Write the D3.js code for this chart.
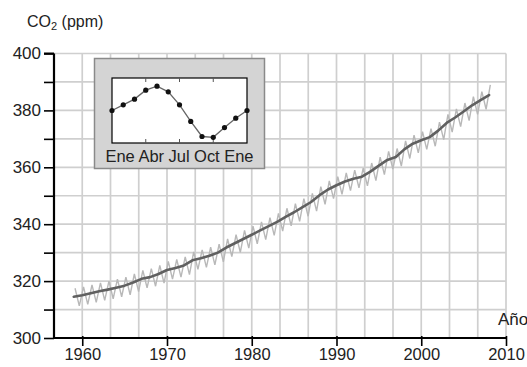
<!DOCTYPE html>
<html><head><meta charset="utf-8">
<script src="https://cdn.jsdelivr.net/npm/d3@7"></script>
<style>
body{margin:0;background:#fff;}
svg{display:block;font-family:"Liberation Sans",Arial,sans-serif;}
</style></head>
<body><svg id="c" width="527" height="367"></svg>
<script>
// ---- data ----
const years = d3.range(1959, 2009);
const annualMean = [314.5,315.0,315.7,316.4,317.0,317.7,318.4,319.5,320.8,321.4,
  322.5,323.9,324.6,325.5,327.3,328.0,328.9,330.0,331.8,333.3,
  334.8,336.3,337.8,339.3,340.8,342.6,344.2,346.0,347.8,350.2,
  352.2,353.7,355.0,356.0,356.7,358.5,360.6,362.6,363.6,366.3,
  368.3,369.5,370.6,372.9,375.6,377.5,379.6,381.8,383.6,385.4];
const monthlyPeak = [317.5,318.0,318.7,319.4,320.0,320.7,321.4,322.5,323.8,324.4,
  325.5,326.9,327.6,328.5,330.3,331.0,331.9,333.0,334.8,336.3,
  337.8,339.3,340.8,342.3,343.8,345.6,347.2,349.0,350.8,353.2,
  355.2,356.7,358.0,359.0,359.7,361.5,363.6,365.6,366.6,369.3,
  371.3,372.5,373.6,375.9,378.6,380.5,382.6,384.8,386.6,389.0];
const monthlyTrough = [311.3,311.8,312.5,313.2,313.8,314.5,315.2,316.3,317.6,318.2,
  319.3,320.7,321.4,322.3,324.1,324.8,325.7,326.8,328.6,330.1,
  331.6,333.1,334.6,336.1,337.6,339.4,341.0,342.8,344.6,347.0,
  349.0,350.5,351.8,352.8,353.5,355.3,357.4,359.4,360.4,363.1,
  365.1,366.3,367.4,369.7,372.4,374.3,376.4,378.6,380.4];
const xTicks = [1960,1970,1980,1990,2000,2010];
const yTicks = [300,310,320,330,340,350,360,370,380,390,400];
const yLabels = [300,320,340,360,380,400];
// seasonal cycle (inset), Jan..Jan, ppm anomaly
const seasonMonths = d3.range(0, 13);
const seasonValues = [0.0,0.7,1.4,2.5,3.0,2.3,0.7,-1.35,-3.2,-3.3,-2.1,-0.95,0.0];
const insetLabel = "Ene Abr Jul Oct Ene";

// ---- layout ----
const svg = d3.select("#c");
const x = d3.scaleLinear().domain([1956.667, 2010]).range([54, 506]);
const y = d3.scaleLinear().domain([300, 400]).range([338, 53.5]);

// grid
const g = svg.append("g");
const nCols = 16;
const gx = d3.range(1, nCols + 1).map(k => x.domain()[0] + k * (x.domain()[1] - x.domain()[0]) / nCols);
g.selectAll(".vg").data(gx).enter().append("line")
  .attr("x1", d => x(d)).attr("x2", d => x(d))
  .attr("y1", y(400)).attr("y2", y(300))
  .attr("stroke", "#cfcfcf").attr("stroke-width", 1.7);
g.selectAll(".hg").data(yTicks.slice(1)).enter().append("line")
  .attr("x1", x.range()[0]).attr("x2", x.range()[1])
  .attr("y1", d => y(d)).attr("y2", d => y(d))
  .attr("stroke", "#cfcfcf").attr("stroke-width", 1.7);

// monthly light line
const light = [];
years.forEach((yr, i) => {
  light.push([yr + 0.15, monthlyPeak[i]]);
  if (i < monthlyTrough.length) light.push([yr + 0.65, monthlyTrough[i]]);
});
svg.append("path").datum(light)
  .attr("d", d3.line().x(d => x(d[0])).y(d => y(d[1])))
  .attr("fill", "none").attr("stroke", "#b8b8b8").attr("stroke-width", 1.4);

// annual dark line
svg.append("path").datum(years.map((yr, i) => [yr, annualMean[i]]))
  .attr("d", d3.line().x(d => x(d[0])).y(d => y(d[1])))
  .attr("fill", "none").attr("stroke", "#606060").attr("stroke-width", 2.6)
  .attr("stroke-linejoin", "round").attr("stroke-linecap", "round");

// axes
const yAxis = svg.append("g").attr("transform", `translate(${x.range()[0]},0)`)
  .call(d3.axisLeft(y).tickValues(yTicks).tickSize(10).tickFormat(d => yLabels.includes(d) ? d : ""));
yAxis.select(".domain").attr("d", `M0,${y(400)}H-10M0,${y(400)}V${y(300) + 1}`).attr("stroke-width", 2.2);
yAxis.selectAll(".tick line").attr("stroke-width", 1.6);
yAxis.selectAll("text").attr("font-size", 17).attr("fill", "#222").attr("x", -13);

const xAxis = svg.append("g").attr("transform", `translate(0,${y(300)})`)
  .call(d3.axisBottom(x).tickValues(xTicks).tickSize(8).tickFormat(d3.format("d")));
xAxis.select(".domain").attr("d", `M${x.range()[0] - 1},0H${x(2010)}`).attr("stroke-width", 2.2);
xAxis.selectAll(".tick line").attr("stroke-width", 1.6).attr("y1", -2);
xAxis.selectAll("text").attr("font-size", 16.5).attr("fill", "#222").attr("y", 10);

// axis titles
const t = svg.append("text").attr("x", 27).attr("y", 27).attr("font-size", 16).attr("fill", "#222");
t.append("tspan").text("CO");
t.append("tspan").text("2").attr("font-size", 11).attr("dy", 3);
t.append("tspan").text(" (ppm)").attr("dy", -3);
svg.append("text").attr("x", 498).attr("y", 325).attr("font-size", 17).attr("fill", "#222").text("Año");

// inset
const ins = svg.append("g");
ins.append("rect").attr("x", 94.5).attr("y", 58.5).attr("width", 170).attr("height", 110)
  .attr("fill", "#d4d4d4").attr("stroke", "#8a8a8a").attr("stroke-width", 1.5);
const ix = d3.scaleLinear().domain([0, 12]).range([112, 247]);
const iy = d3.scaleLinear().domain([-4, 4]).range([143, 78]);
ins.append("rect").attr("x", ix(0)).attr("y", iy(4)).attr("width", ix(12) - ix(0)).attr("height", iy(-4) - iy(4))
  .attr("fill", "#fff").attr("stroke", "#000").attr("stroke-width", 1.2);
[3, 6, 9].forEach(m => {
  ins.append("line").attr("x1", ix(m)).attr("x2", ix(m)).attr("y1", iy(4)).attr("y2", iy(4) + 4).attr("stroke", "#555");
  ins.append("line").attr("x1", ix(m)).attr("x2", ix(m)).attr("y1", iy(-4)).attr("y2", iy(-4) - 4).attr("stroke", "#555");
});
ins.append("path").datum(seasonMonths.map((m, i) => [m, seasonValues[i]]))
  .attr("d", d3.line().x(d => ix(d[0])).y(d => iy(d[1])))
  .attr("fill", "none").attr("stroke", "#666").attr("stroke-width", 1.3);
ins.selectAll(".pt").data(seasonMonths.map((m, i) => [m, seasonValues[i]])).enter().append("circle")
  .attr("cx", d => ix(d[0])).attr("cy", d => iy(d[1])).attr("r", 2.6).attr("fill", "#111");
ins.append("text").attr("x", 179.5).attr("y", 162).attr("text-anchor", "middle")
  .attr("font-size", 16.5).attr("textLength", 148).attr("fill", "#222").text(insetLabel);
</script></body></html>
